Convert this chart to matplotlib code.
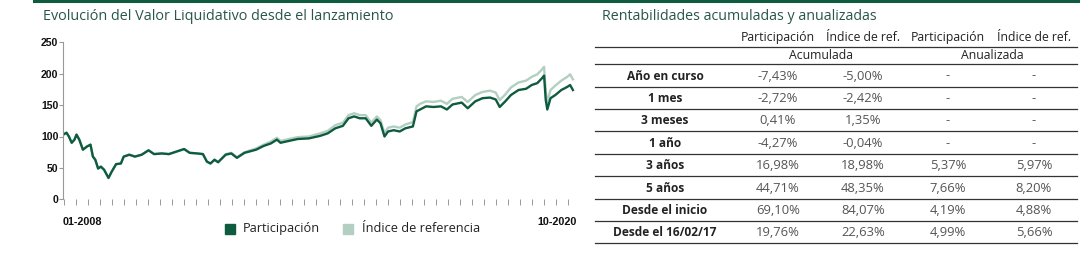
import matplotlib
matplotlib.use("Agg")
import matplotlib.pyplot as plt
from matplotlib.lines import Line2D
from matplotlib.patches import Rectangle

# --- data ---
fechas = [2008.00, 2008.08, 2008.14, 2008.21, 2008.28, 2008.33, 2008.40, 2008.49, 2008.59, 2008.68,
          2008.74, 2008.80, 2008.87, 2008.94, 2009.02, 2009.13, 2009.21, 2009.32, 2009.44, 2009.51,
          2009.65, 2009.79, 2009.96, 2010.13, 2010.27, 2010.46, 2010.64, 2010.83, 2011.02, 2011.16,
          2011.35, 2011.49, 2011.59, 2011.68, 2011.78, 2011.87, 2012.06, 2012.20, 2012.34, 2012.53,
          2012.82, 2013.01, 2013.19, 2013.34, 2013.43, 2013.57, 2013.86, 2014.14, 2014.42, 2014.61,
          2014.80, 2014.99, 2015.13, 2015.27, 2015.41, 2015.56, 2015.70, 2015.84, 2015.93, 2016.03,
          2016.12, 2016.26, 2016.41, 2016.55, 2016.74, 2016.83, 2016.92, 2017.07, 2017.26, 2017.44,
          2017.59, 2017.73, 2017.96, 2018.11, 2018.30, 2018.48, 2018.67, 2018.81, 2018.91, 2019.05,
          2019.19, 2019.38, 2019.57, 2019.71, 2019.85, 2019.97, 2020.02, 2020.06, 2020.10, 2020.18,
          2020.30, 2020.45, 2020.60, 2020.67, 2020.74]

participacion = [103, 106, 100, 90, 95, 103, 95, 79, 84, 87,
                 68, 63, 49, 52, 47, 34, 44, 56, 57, 68,
                 71, 68, 71, 78, 72, 73, 72, 76, 80, 74,
                 73, 72, 60, 57, 63, 59, 71, 73, 66, 74,
                 79, 85, 89, 95, 90, 92, 96, 97, 101, 105,
                 113, 117, 129, 132, 129, 129, 117, 127, 121, 100,
                 108, 110, 108, 113, 116, 140, 143, 148, 147, 148,
                 143, 151, 154, 145, 156, 161, 162, 159, 147, 156,
                 166, 174, 176, 182, 185, 193, 197, 159, 143, 161,
                 166, 174, 179, 182, 174]

indice = [103, 106, 100, 90, 95, 103, 95, 79, 84, 87,
          68, 63, 49, 52, 47, 34, 44, 56, 57, 68,
          71, 68, 71, 78, 72, 73, 72, 76, 80, 74,
          73, 72, 60, 57, 63, 59, 72, 74, 67, 75,
          81, 87, 92, 98, 93, 95, 99, 100, 105, 109,
          118, 122, 134, 137, 134, 134, 122, 132, 126, 105,
          114, 116, 114, 119, 123, 148, 152, 156, 155, 157,
          152, 160, 163, 155, 166, 171, 173, 170, 158, 167,
          178, 186, 189, 195, 199, 207, 211, 172, 155, 174,
          181, 189, 195, 199, 191]

filas = ["Año en curso", "1 mes", "3 meses", "1 año", "3 años", "5 años",
         "Desde el inicio", "Desde el 16/02/17"]
acum_part = ["-7,43%", "-2,72%", "0,41%", "-4,27%", "16,98%", "44,71%", "69,10%", "19,76%"]
acum_ref = ["-5,00%", "-2,42%", "1,35%", "-0,04%", "18,98%", "48,35%", "84,07%", "22,63%"]
anual_part = ["-", "-", "-", "-", "5,37%", "7,66%", "4,19%", "4,99%"]
anual_ref = ["-", "-", "-", "-", "5,97%", "8,20%", "4,88%", "5,66%"]

W, H = 1089, 269
OSCURO = "#0f5b40"
CLARO = "#b3cfc2"
TITULO = "#2a554a"
FUENTE = "Open Sans"

fig = plt.figure(figsize=(W / 100, H / 100), dpi=100)


def px(x, y):
    # pixel coords (origin top-left) -> figure fraction
    return x / W, 1 - y / H


def hline(x0, x1, y, color, lw):
    a, b = px(x0, y)
    c, _ = px(x1, y)
    fig.add_artist(Line2D([a, c], [b, b], color=color, lw=lw, transform=fig.transFigure))


# green bar on top
hline(34, 1078, 1.2, OSCURO, 2.2)

# --- line chart ---
ax = fig.add_axes([63.3 / W, (H - 199.3) / H, 512 / W, 157 / H])
ax.plot(fechas, indice, color=CLARO, lw=1.7, solid_joinstyle="round")
ax.plot(fechas, participacion, color=OSCURO, lw=1.7, solid_joinstyle="round")
ax.set_xlim(2008.0, 2020.8)
ax.set_ylim(0, 250)
ax.set_yticks([0, 50, 100, 150, 200, 250])
ax.set_xticks([2008.02 + k * 0.3 for k in range(43)])
ax.set_xticklabels([])
for s in ["top", "right", "bottom"]:
    ax.spines[s].set_visible(False)
ax.spines["left"].set_color("#999999")
ax.spines["left"].set_linewidth(0.8)
ax.tick_params(axis="y", length=3, width=0.8, color="#999999", pad=0.5,
               labelsize=7.6, labelcolor="#111111")
ax.tick_params(axis="x", length=4, width=0.7, color="#999999", pad=0)
for lbl in ax.get_yticklabels():
    lbl.set_fontweight("bold")
    lbl.set_family("Liberation Sans")
ax.patch.set_alpha(0)

fig.text(*px(43, 16.5), "Evolución del Valor Liquidativo desde el lanzamiento",
         fontsize=10.4, color=TITULO, family=FUENTE, va="center", ha="left")
fig.text(*px(62.5, 222), "01-2008", fontsize=7.8, fontweight="bold",
         family="Liberation Sans", color="#111111", va="center", ha="left")
fig.text(*px(577, 222), "10-2020", fontsize=7.8, fontweight="bold",
         family="Liberation Sans", color="#111111", va="center", ha="right")

# legend
for xs, xt, color, label in [(225, 243, OSCURO, "Participación"),
                             (343, 362, CLARO, "Índice de referencia")]:
    x0, y0 = px(xs, 233.7)
    fig.add_artist(Rectangle((x0, y0), 10 / W, 9.7 / H, color=color, transform=fig.transFigure))
    fig.text(*px(xt, 228.5), label, fontsize=9.2, color="#222222", family=FUENTE,
             va="center", ha="left")

# --- returns table ---
fig.text(*px(601.5, 16.5), "Rentabilidades acumuladas y anualizadas",
         fontsize=10.3, color=TITULO, family=FUENTE, va="center", ha="left")

cols = [778, 863, 948, 1034]
for x, t in zip(cols, ["Participación", "Índice de ref.", "Participación", "Índice de ref."]):
    fig.text(*px(x, 37.3), t, fontsize=8.8, color="#222222", family=FUENTE, ha="center", va="center")
hline(595, 1077, 46.7, "#333333", 0.9)
fig.text(*px(821, 55.7), "Acumulada", fontsize=8.8, color="#222222", family=FUENTE, ha="center", va="center")
fig.text(*px(992, 55.7), "Anualizada", fontsize=8.8, color="#222222", family=FUENTE, ha="center", va="center")
hline(595, 1077, 64.3, "#333333", 0.9)

y = 76
for i, fila in enumerate(filas):
    fig.text(*px(665, y), fila, fontsize=8.6, fontweight="bold", color="#222222",
             family=FUENTE, ha="center", va="center")
    for x, vals in zip(cols, [acum_part, acum_ref, anual_part, anual_ref]):
        fig.text(*px(x, y), vals[i], fontsize=9.4, color="#555555", family=FUENTE,
                 ha="center", va="center")
    hline(595, 1077, y + 10.6, "#333333", 0.9)
    y += 22.4

fig.savefig("out.png", dpi=100)
